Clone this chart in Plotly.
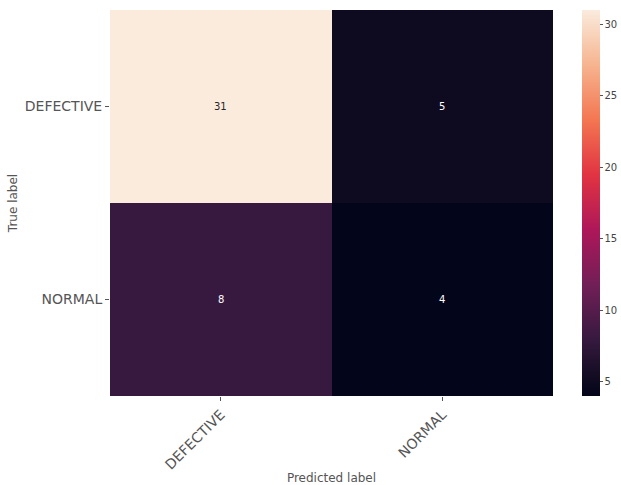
import plotly.graph_objects as go

labels = ["DEFECTIVE", "NORMAL"]
matrix = [[31, 5], [8, 4]]
cbar_ticks = [5, 10, 15, 20, 25, 30]

rocket = [
    [0.0, "#03051a"],
    [0.05, "#120c22"],
    [0.1429, "#35193e"],
    [0.2857, "#701f57"],
    [0.4286, "#ad1759"],
    [0.5714, "#e13342"],
    [0.7143, "#f37651"],
    [0.8571, "#f6b48f"],
    [1.0, "#faebdd"],
]

vmin = min(min(r) for r in matrix)
vmax = max(max(r) for r in matrix)

fig = go.Figure()
fig.add_trace(go.Heatmap(
    z=matrix, x=labels, y=labels,
    colorscale=rocket, zmin=vmin, zmax=vmax,
    xgap=0, ygap=0,
    colorbar=dict(
        thickness=18, len=1, lenmode="fraction", y=0.5, yanchor="middle",
        x=582 / 621, xref="container", xanchor="left", outlinewidth=0,
        xpad=0, ypad=0,
        tickvals=cbar_ticks, ticks="outside", ticklen=3, tickcolor="#555",
        tickfont=dict(size=10, color="#444", family="DejaVu Sans"),
    ),
    hoverinfo="skip",
))

mid = (vmin + vmax) / 2
for i, row in enumerate(matrix):
    for j, v in enumerate(row):
        fig.add_annotation(
            x=labels[j], y=labels[i], text=str(v), showarrow=False,
            font=dict(size=10, family="DejaVu Sans",
                      color="#262626" if v > mid else "#ffffff"),
        )

fig.update_layout(
    width=621, height=485,
    margin=dict(l=110, r=68, t=10, b=89),
    paper_bgcolor="white", plot_bgcolor="white",
    font=dict(family="DejaVu Sans", color="#444"),
    xaxis=dict(
        title=dict(text="Predicted label", font=dict(size=12, color="#555"), standoff=8),
        tickangle=-45, tickfont=dict(size=14, color="#555"), automargin=False,
        ticks="outside", ticklen=4, tickcolor="#555", showgrid=False, zeroline=False,
    ),
    yaxis=dict(
        title=dict(text="True label", font=dict(size=12, color="#555"), standoff=4),
        autorange="reversed", tickfont=dict(size=14, color="#555"), automargin=False,
        ticks="outside", ticklen=4, tickcolor="#555", showgrid=False, zeroline=False,
    ),
)

fig.write_html("out.html")
